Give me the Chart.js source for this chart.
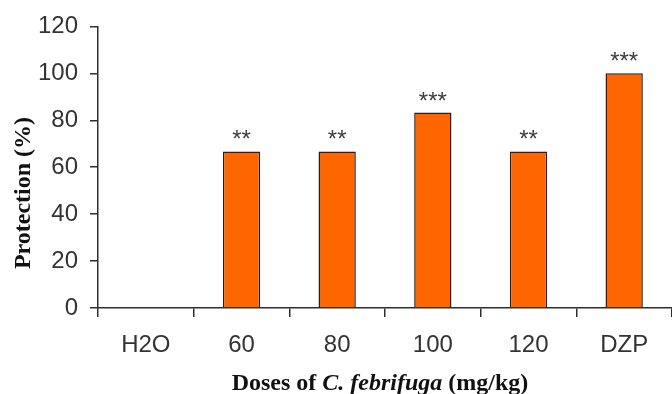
<!DOCTYPE html>
<html>
<head>
<meta charset="utf-8">
<script src="https://cdn.jsdelivr.net/npm/chart.js@4/dist/chart.umd.min.js"></script>
<style>
  html, body { margin: 0; padding: 0; background: #ffffff; }
  #wrap { width: 672px; height: 394px; position: relative; }
</style>
</head>
<body>
<div id="wrap"><canvas id="c" width="672" height="394"></canvas></div>
<script>
// ---- data ----
const categories = ['H2O', '60', '80', '100', '120', 'DZP'];
const protection = [0, 66.7, 66.7, 83.3, 66.7, 100];
const significance = ['', '**', '**', '***', '**', '***'];
const yMin = 0;
const yMax = 120;
const yStep = 20;
const yTitle = 'Protection (%)';
const xTitleParts = [
  { text: 'Doses of ', italic: false },
  { text: 'C. febrifuga', italic: true },
  { text: ' (mg/kg)', italic: false }
];

const axisColor = '#2e2e2e';
const textColor = '#333333';

const annotatePlugin = {
  id: 'annotate',
  afterDatasetsDraw(chart) {
    const ctx = chart.ctx;
    const meta = chart.getDatasetMeta(0);
    ctx.save();
    ctx.fillStyle = '#3c3c3c';
    ctx.font = '24px "Liberation Sans", Arial, sans-serif';
    ctx.textAlign = 'center';
    ctx.textBaseline = 'alphabetic';
    meta.data.forEach((bar, i) => {
      const s = significance[i];
      if (!s) return;
      ctx.fillText(s, bar.x, bar.y - 4);
    });
    ctx.restore();
  },
  afterDraw(chart) {
    const ctx = chart.ctx;
    const area = chart.chartArea;
    ctx.save();
    ctx.fillStyle = '#111111';
    const size = 24;
    const fam = '"Liberation Serif", "Times New Roman", serif';
    let total = 0;
    const widths = xTitleParts.map(p => {
      ctx.font = (p.italic ? 'italic ' : '') + 'bold ' + size + 'px ' + fam;
      const w = ctx.measureText(p.text).width;
      total += w;
      return w;
    });
    let x = (area.left + area.right) / 2 - 5 - total / 2;
    const y = 390;
    ctx.textBaseline = 'alphabetic';
    ctx.textAlign = 'left';
    xTitleParts.forEach((p, i) => {
      ctx.font = (p.italic ? 'italic ' : '') + 'bold ' + size + 'px ' + fam;
      ctx.fillText(p.text, x, y);
      x += widths[i];
    });
    ctx.translate(24, 193);
    ctx.rotate(-Math.PI / 2);
    ctx.font = 'bold 24px ' + fam;
    ctx.textAlign = 'center';
    ctx.textBaseline = 'middle';
    ctx.fillText(yTitle, 0, 0);
    ctx.restore();
  }
};

new Chart(document.getElementById('c'), {
  type: 'bar',
  data: {
    labels: categories,
    datasets: [{
      data: protection,
      backgroundColor: '#FF6600',
      borderColor: '#2a1f18',
      borderWidth: 1.5,
      borderSkipped: 'bottom',
      categoryPercentage: 1.0,
      barPercentage: 0.39
    }]
  },
  options: {
    responsive: false,
    devicePixelRatio: 1,
    animation: false,
    layout: { padding: { left: 0, right: 0, top: 25, bottom: 0 } },
    plugins: {
      legend: { display: false },
      tooltip: { enabled: false },
      title: { display: false }
    },
    scales: {
      x: {
        offset: true,
        grid: {
          display: true,
          offset: true,
          drawOnChartArea: false,
          drawTicks: true,
          tickLength: 9,
          color: axisColor,
          lineWidth: 1.5
        },
        border: { display: true, color: axisColor, width: 1.5 },
        ticks: {
          color: textColor,
          padding: 14,
          font: { family: '"Liberation Sans", Arial, sans-serif', size: 24 }
        },
        afterFit(scale) { scale.height = 86; }
      },
      y: {
        min: yMin,
        max: yMax,
        grid: {
          display: true,
          drawOnChartArea: false,
          drawTicks: true,
          tickLength: 8,
          color: axisColor,
          lineWidth: 1.5
        },
        border: { display: true, color: axisColor, width: 1.5 },
        ticks: {
          stepSize: yStep,
          color: textColor,
          padding: 12,
          font: { family: '"Liberation Sans", Arial, sans-serif', size: 24 }
        },
        afterFit(scale) { scale.width = 98; }
      }
    }
  },
  plugins: [annotatePlugin]
});
</script>
</body>
</html>
